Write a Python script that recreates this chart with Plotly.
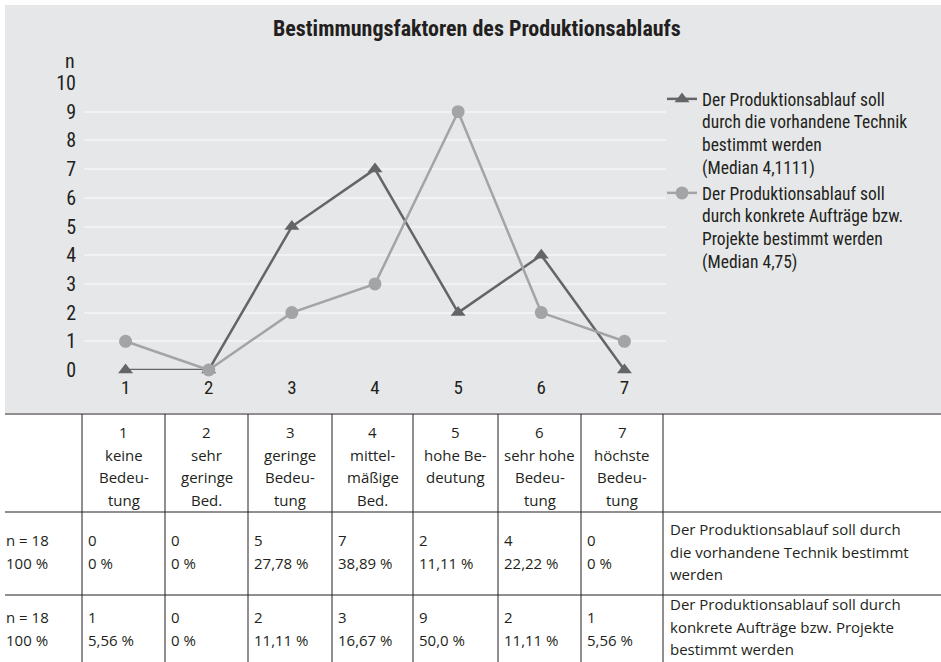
import plotly.graph_objects as go

# ---------------- data ----------------
categories = [1, 2, 3, 4, 5, 6, 7]
technik = [0, 0, 5, 7, 2, 4, 0]
auftraege = [1, 0, 2, 3, 9, 2, 1]
y_ticks = [0, 1, 2, 3, 4, 5, 6, 7, 8, 9, 10]

name_technik = "Der Produktionsablauf soll<br>durch die vorhandene Technik<br>bestimmt werden<br>(Median 4,1111)"
name_auftraege = "Der Produktionsablauf soll<br>durch konkrete Aufträge bzw.<br>Projekte bestimmt werden<br>(Median 4,75)"
title_text = "Bestimmungsfaktoren des Produktionsablaufs"

header_labels = [
    ["1", "keine", "Bedeu-", "tung"],
    ["2", "sehr", "geringe", "Bed."],
    ["3", "geringe", "Bedeu-", "tung"],
    ["4", "mittel-", "mäßige", "Bed."],
    ["5", "hohe Be-", "deutung"],
    ["6", "sehr hohe", "Bedeu-", "tung"],
    ["7", "höchste", "Bedeu-", "tung"],
]
row_n = ["n = 18", "100 %"]
pct_technik = ["0 %", "0 %", "27,78 %", "38,89 %", "11,11 %", "22,22 %", "0 %"]
pct_auftraege = ["5,56 %", "0 %", "11,11 %", "16,67 %", "50,0 %", "11,11 %", "5,56 %"]
desc_technik = ["Der Produktionsablauf soll durch", "die vorhandene Technik bestimmt", "werden"]
desc_auftraege = ["Der Produktionsablauf soll durch", "konkrete Aufträge bzw. Projekte", "bestimmt werden"]

# ---------------- layout geometry (pixels) ----------------
W, H = 941, 662
PL, PR, PT, PB = 84, 666, 83, 370

def px(x):
    return (x - PL) / (PR - PL)

def py(y):
    return (PB - y) / (PB - PT)

chart_font = "Liberation Sans Narrow, Roboto Condensed, Arial Narrow, sans-serif"
table_font = "Open Sans, Noto Sans, sans-serif"
dark = "#646567"
light = "#a3a4a6"
txt = "#231f20"

fig = go.Figure()
fig.add_trace(go.Scatter(
    x=categories, y=technik, name=name_technik, mode="lines+markers",
    line=dict(color=dark, width=2.5), cliponaxis=False,
    marker=dict(symbol="triangle-up", size=13, color=dark),
))
fig.add_trace(go.Scatter(
    x=categories, y=auftraege, name=name_auftraege, mode="lines+markers",
    line=dict(color=light, width=2.5), cliponaxis=False,
    marker=dict(symbol="circle", size=13, color=light),
))

shapes = []
annotations = []

# grey background of chart region
shapes.append(dict(type="rect", xref="paper", yref="paper", layer="below",
                   x0=px(5), x1=px(941), y0=py(413), y1=py(5),
                   fillcolor="#e6e7e8", line=dict(width=0)))

# title and axis label
annotations.append(dict(text="<b>" + title_text + "</b>", xref="paper", yref="paper",
                        x=px(477), y=py(28), xanchor="center", yanchor="middle",
                        showarrow=False,
                        font=dict(family=chart_font, size=22, color=txt)))
annotations.append(dict(text="n", xref="paper", yref="paper",
                        x=px(70), y=py(61), xanchor="center", yanchor="middle",
                        showarrow=False,
                        font=dict(family=chart_font, size=20, color=txt)))

# ---------------- table ----------------
col_x = [5, 82, 165, 248, 332, 413, 498, 581, 663, 941]
row_y = [414, 512, 595, 662]
line_col = "#231f20"
for y in row_y[:-1]:
    shapes.append(dict(type="line", xref="paper", yref="paper",
                       x0=px(5), x1=px(941), y0=py(y), y1=py(y),
                       line=dict(color=line_col, width=1)))
for x in col_x[1:-1]:
    shapes.append(dict(type="line", xref="paper", yref="paper",
                       x0=px(x), x1=px(x), y0=py(row_y[0]), y1=py(row_y[-1]),
                       line=dict(color=line_col, width=1)))

tf = dict(family=table_font, size=15, color=txt)
LS = 22.5

def add_text(t, x, y, xanchor="left"):
    annotations.append(dict(text=t, xref="paper", yref="paper", x=px(x), y=py(y),
                            xanchor=xanchor, yanchor="middle", showarrow=False, font=tf))

# header
for i, lines in enumerate(header_labels):
    cx = (col_x[i + 1] + col_x[i + 2]) / 2
    for j, t in enumerate(lines):
        add_text(t, cx, 432 + j * 22.5, "center")

# rows
for r, (pcts, vals, desc) in enumerate([(pct_technik, technik, desc_technik),
                                         (pct_auftraege, auftraege, desc_auftraege)]):
    y0 = 540 if r == 0 else 617
    add_text(row_n[0], 4, y0)
    add_text(row_n[1], 4, y0 + LS)
    for i in range(7):
        x = col_x[i + 1] + 4
        add_text(str(vals[i]), x, y0)
        add_text(pcts[i], x, y0 + LS)
    d0 = 529 if r == 0 else 604
    for j, t in enumerate(desc):
        add_text(t, col_x[8] + 5, d0 + j * 22.5)

fig.update_layout(
    width=W, height=H,
    margin=dict(l=PL, r=W - PR, t=PT, b=H - PB),
    paper_bgcolor="white",
    plot_bgcolor="#d9dadb",
    showlegend=True,
    legend=dict(x=px(662), y=py(81), xanchor="left", yanchor="top", valign="top",
                bgcolor="rgba(0,0,0,0)", font=dict(family=chart_font, size=17.5, color=txt),
                itemwidth=30, tracegroupgap=2),
    xaxis=dict(range=[0.5, 7.5], tickvals=categories, showgrid=False, zeroline=False,
               showline=False, ticks="", tickfont=dict(family=chart_font, size=19, color=txt),
               ticklabelstandoff=4, fixedrange=True),
    yaxis=dict(range=[0, 10], tickvals=y_ticks, showgrid=True, gridcolor="#f2f2f2",
               gridwidth=2, zeroline=False, showline=False, ticks="",
               tickfont=dict(family=chart_font, size=20, color=txt),
               ticklabelstandoff=7, fixedrange=True),
    shapes=shapes,
    annotations=annotations,
)

fig.write_html("out.html", config={"displayModeBar": False},
               post_script="document.body.style.margin='0';")
